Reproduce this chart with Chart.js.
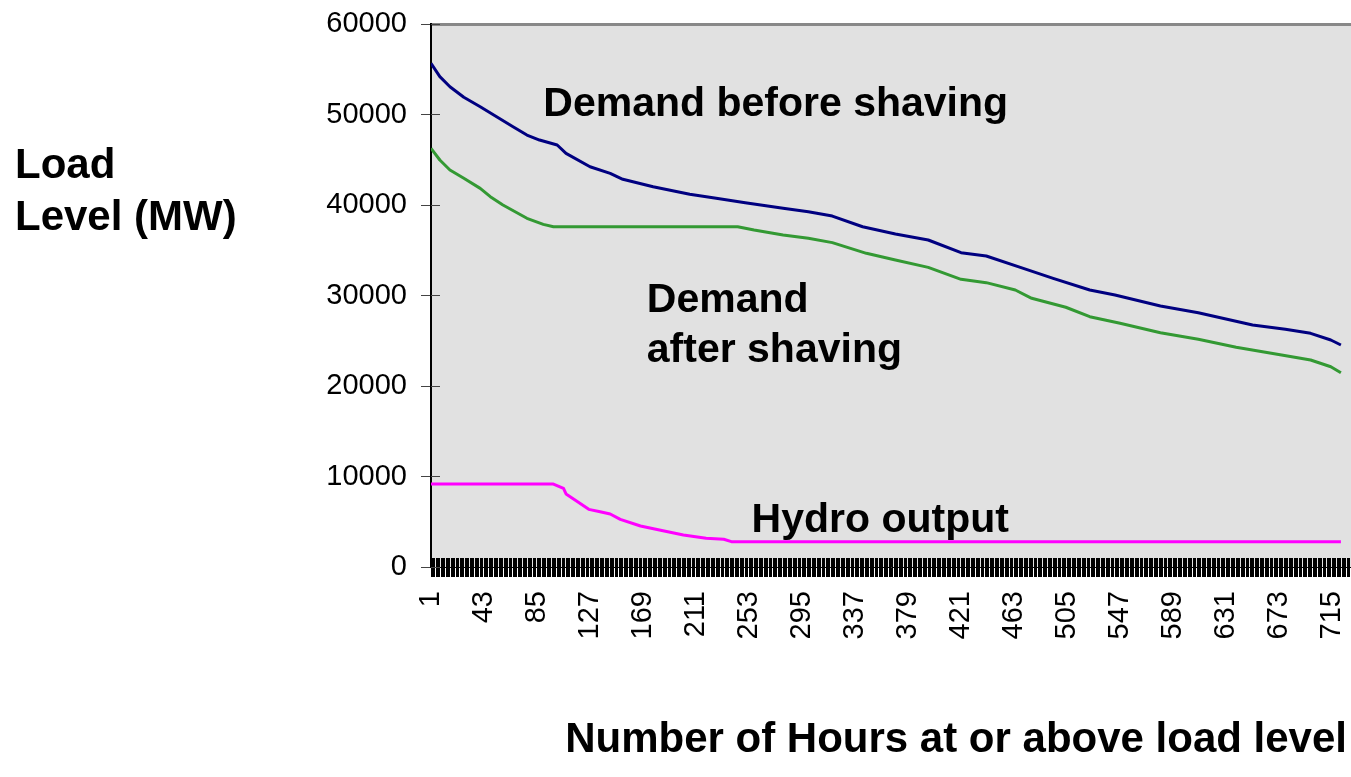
<!DOCTYPE html>
<html>
<head>
<meta charset="utf-8">
<title>Load duration curve</title>
<script src="https://cdn.jsdelivr.net/npm/chart.js@4"></script>
<style>
  html, body { margin: 0; padding: 0; background: #fff; overflow: hidden; }
  canvas { display: block; }
</style>
</head>
<body>
<canvas id="loadChart" width="1351" height="777"></canvas>
<script>
// hours (x) and MW values
const beforeHours = [1, 8, 16, 27, 40, 53, 66, 77, 87, 101, 108, 127, 143, 153, 177, 206, 227, 250, 280, 300, 319, 343, 369, 395, 421, 441, 468, 494, 523, 543, 579, 609, 652, 678, 698, 714, 722];
const beforeMW = [55660, 54180, 53070, 51900, 50860, 49760, 48650, 47730, 47180, 46630, 45710, 44230, 43500, 42840, 42020, 41180, 40740, 40260, 39630, 39260, 38780, 37600, 36800, 36130, 34730, 34360, 33110, 31900, 30610, 30060, 28840, 28100, 26740, 26260, 25820, 25080, 24530];

const afterHours = [1, 8, 16, 27, 40, 48, 58, 77, 90, 98, 244, 257, 280, 300, 319, 346, 369, 395, 421, 441, 464, 477, 504, 523, 547, 579, 609, 639, 675, 698, 714, 722];
const afterMW = [46260, 44970, 43870, 42950, 41840, 40920, 40000, 38530, 37860, 37600, 37600, 37240, 36690, 36320, 35840, 34660, 33920, 33110, 31790, 31420, 30610, 29690, 28700, 27660, 26930, 25890, 25160, 24280, 23430, 22870, 22130, 21470];

const hydroHours = [1, 98, 106, 108, 116, 126, 135, 143, 151, 167, 182, 201, 219, 233, 239, 722];
const hydroMW = [9170, 9170, 8690, 8070, 7330, 6370, 6110, 5860, 5270, 4530, 4090, 3540, 3170, 3060, 2800, 2800];

const hourLabels = [1, 43, 85, 127, 169, 211, 253, 295, 337, 379, 421, 463, 505, 547, 589, 631, 673, 715];
const hourCount = 730;
const mwTicks = [0, 10000, 20000, 30000, 40000, 50000, 60000];

// in-chart labels: [text, hour, MW at baseline]
const notes = [
    ["Demand before shaving", 90, 49830],
    ["Demand", 172, 28210],
    ["after shaving", 172, 22690],
    ["Hydro output", 255, 3900]
];

const FONT = '"Liberation Sans", Arial, Helvetica, sans-serif';

function pairs(xs, ys) {
    return xs.map((h, i) => ({ x: h, y: ys[i] }));
}

// grey plot area, top border and the tick marks that reach into the plot
const plotArea = {
    id: "plotArea",
    beforeDraw(chart) {
        const { ctx, chartArea: a } = chart;
        ctx.save();
        ctx.fillStyle = "#e1e1e1";
        ctx.fillRect(a.left, a.top, a.right - a.left, a.bottom - a.top);
        ctx.strokeStyle = "#888888";
        ctx.lineWidth = 3;
        ctx.beginPath();
        ctx.moveTo(a.left, a.top + 0.5);
        ctx.lineTo(a.right, a.top + 0.5);
        ctx.stroke();
        ctx.restore();
    },
    beforeDatasetsDraw(chart) {
        const { ctx, chartArea: a, scales } = chart;
        ctx.save();
        ctx.lineWidth = 1;
        ctx.strokeStyle = "#000";
        ctx.beginPath();
        scales.x.ticks.forEach(t => {
            const px = Math.round(scales.x.getPixelForValue(t.value) - 0.5) + 0.5;
            ctx.moveTo(px, a.bottom);
            ctx.lineTo(px, a.bottom - 9);
        });
        ctx.stroke();
        ctx.strokeStyle = "#444";
        ctx.beginPath();
        scales.y.ticks.forEach(t => {
            const py = Math.round(scales.y.getPixelForValue(t.value) - 0.5) + 0.5;
            ctx.moveTo(a.left, py);
            ctx.lineTo(a.left + 9, py);
        });
        ctx.stroke();
        ctx.restore();
    },
    afterDraw(chart) {
        const { ctx, scales } = chart;
        ctx.save();
        ctx.fillStyle = "#000";
        ctx.textBaseline = "alphabetic";
        ctx.font = "bold 41px " + FONT;
        ctx.textAlign = "left";
        notes.forEach(n => {
            ctx.fillText(n[0], scales.x.getPixelForValue(n[1]), scales.y.getPixelForValue(n[2]));
        });
        // axis titles
        ctx.font = "bold 42px " + FONT;
        ctx.fillText("Load", 15, 178);
        ctx.fillText("Level (MW)", 15, 230);
        ctx.font = "bold 42px " + FONT;
        ctx.textAlign = "right";
        ctx.fillText("Number of Hours at or above load level", 1347, 752);
        ctx.restore();
    }
};

const ctx = document.getElementById("loadChart").getContext("2d");
new Chart(ctx, {
    type: "line",
    data: {
        datasets: [
            { label: "Demand before shaving", data: pairs(beforeHours, beforeMW), borderColor: "#000080" },
            { label: "Demand after shaving", data: pairs(afterHours, afterMW), borderColor: "#339933" },
            { label: "Hydro output", data: pairs(hydroHours, hydroMW), borderColor: "#ff00ff" }
        ]
    },
    options: {
        responsive: false,
        animation: false,
        layout: { padding: { top: 24, left: 0, right: 0, bottom: 0 } },
        elements: {
            line: { borderWidth: 3, tension: 0, fill: false, borderJoinStyle: "round" },
            point: { radius: 0 }
        },
        plugins: {
            legend: { display: false },
            tooltip: { enabled: false }
        },
        scales: {
            x: {
                type: "linear",
                min: 1,
                max: hourCount,
                afterBuildTicks: s => {
                    const t = [];
                    for (let h = 1; h <= hourCount; h++) t.push({ value: h });
                    s.ticks = t;
                },
                afterFit: s => {
                    s.height = 210;
                    s.paddingLeft = 0;
                    s.paddingRight = 0;
                },
                ticks: {
                    autoSkip: false,
                    minRotation: 90,
                    maxRotation: 90,
                    padding: 14,
                    color: "#000",
                    font: { family: FONT, size: 29 },
                    callback: v => hourLabels.includes(v) ? String(v) : ""
                },
                grid: { drawOnChartArea: false, tickLength: 10, tickColor: "#000", tickWidth: 1 },
                border: { color: "#000", width: 1 }
            },
            y: {
                min: 0,
                max: 60000,
                afterBuildTicks: s => { s.ticks = mwTicks.map(v => ({ value: v })); },
                afterFit: s => {
                    s.width = 431;
                    s.paddingTop = 0;
                    s.paddingBottom = 0;
                },
                ticks: {
                    padding: 14,
                    color: "#000",
                    font: { family: FONT, size: 29 },
                    callback: v => String(v)
                },
                grid: { drawOnChartArea: false, tickLength: 10, tickColor: "#444", tickWidth: 1 },
                border: { color: "#000", width: 2 }
            }
        }
    },
    plugins: [plotArea]
});
</script>
</body>
</html>
